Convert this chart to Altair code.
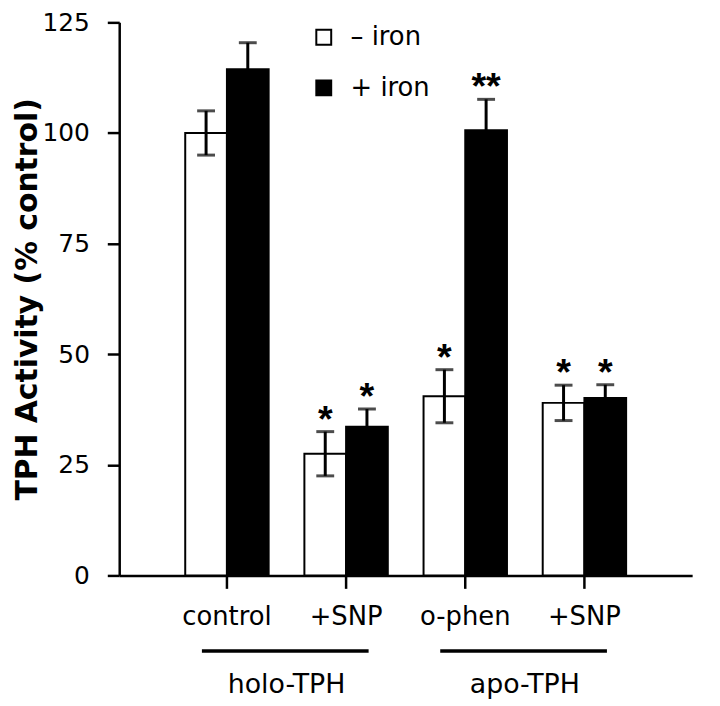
import altair as alt
import pandas as pd

# ---- data ----
groups = ["holo-TPH", "holo-TPH", "apo-TPH", "apo-TPH"]
treatments = ["control", "+SNP", "o-phen", "+SNP"]
iron_labels = ["– iron", "+ iron"]
minus_iron = [100.0, 27.5, 40.5, 39.0]
minus_err = [5.0, 5.0, 6.0, 4.0]
plus_iron = [114.4, 33.6, 100.6, 40.1]
plus_err = [6.0, 4.0, 7.0, 3.0]
minus_sig = ["", "*", "*", "*"]
plus_sig = ["", "*", "**", "*"]
y_ticks = [0, 25, 50, 75, 100, 125]

keys = [f"{g}|{t}" for g, t in zip(groups, treatments)]

rows = []
for i, k in enumerate(keys):
    for lab, vals, errs, sigs in [
        (iron_labels[0], minus_iron, minus_err, minus_sig),
        (iron_labels[1], plus_iron, plus_err, plus_sig),
    ]:
        rows.append(dict(key=k, iron=lab, value=vals[i],
                         lo=vals[i] - errs[i], hi=vals[i] + errs[i], sig=sigs[i]))
df = pd.DataFrame(rows)

grp_rows = []
for g in ["holo-TPH", "apo-TPH"]:
    ks = [k for k, gg in zip(keys, groups) if gg == g]
    grp_rows.append(dict(group=g, start=ks[0], end=ks[-1]))
gdf = pd.DataFrame(grp_rows)

TOP = 12
W, H = 577, 569 - TOP
FONT = "DejaVu Sans"
STAR_FONT = "Liberation Sans"

xscale = alt.Scale(domain=keys, paddingInner=0.3, paddingOuter=0.554)
yscale = alt.Scale(domain=[0, 125], nice=False)
offscale = alt.Scale(domain=iron_labels, paddingInner=0, paddingOuter=0)

xaxis = alt.Axis(title=None, labelExpr="split(datum.value, '|')[1]", labelAngle=0,
                 labelFont=FONT, labelFontSize=26, labelColor="black", labelPadding=15,
                 tickSize=13, tickWidth=2.5, tickColor="black",
                 domainWidth=2.5, domainColor="black")
yaxis = alt.Axis(title="TPH Activity (% control)", values=y_ticks, grid=False,
                 labelFont=FONT, labelFontSize=25, labelColor="black", labelPadding=18,
                 tickSize=12, tickWidth=2.5, tickColor="black",
                 domainWidth=2.5, domainColor="black",
                 titleFont=FONT, titleFontSize=30, titleFontWeight="bold",
                 titleColor="black", titleX=-83, titleBaseline="alphabetic")

base = alt.Chart(df)

bars = base.mark_bar(stroke="black", strokeWidth=2).encode(
    x=alt.X("key:N", scale=xscale, axis=xaxis, sort=keys),
    xOffset=alt.XOffset("iron:N", scale=offscale, sort=iron_labels),
    y=alt.Y("value:Q", scale=yscale, axis=yaxis),
    fill=alt.Fill("iron:N", scale=alt.Scale(domain=iron_labels, range=["white", "black"]),
                  legend=alt.Legend(title=None, orient="none", legendX=193, legendY=2,
                                    symbolType="square", symbolSize=225,
                                    symbolStrokeColor="black", symbolStrokeWidth=2,
                                    labelFont=FONT, labelFontSize=26, labelColor="black",
                                    labelOffset=14, rowPadding=25, padding=0)),
)

enc_common = dict(
    x=alt.X("key:N", scale=xscale, sort=keys),
    xOffset=alt.XOffset("iron:N", scale=offscale, sort=iron_labels),
)

stems = base.mark_rule(color="black", strokeWidth=3).encode(
    y=alt.Y("lo:Q", scale=yscale), y2="hi:Q", **enc_common)
caps_hi = base.mark_tick(color="black", thickness=3, size=18).encode(
    y=alt.Y("hi:Q", scale=yscale), **enc_common)
caps_lo = base.mark_tick(color="black", thickness=3, size=18).encode(
    y=alt.Y("lo:Q", scale=yscale), **enc_common)
stars = base.mark_text(font=STAR_FONT, fontSize=38, fontWeight="bold", color="black",
                       baseline="alphabetic", dy=0).encode(
    y=alt.Y("hi:Q", scale=yscale), text="sig:N", **enc_common)

gbase = alt.Chart(gdf)
glines = gbase.mark_rule(color="black", strokeWidth=3.5).encode(
    x=alt.X("start:N", scale=xscale, bandPosition=0.2),
    x2=alt.X2("end:N", bandPosition=0.77),
    y=alt.value(H + 76),
)
glabels = gbase.mark_text(font=FONT, fontSize=27, color="black", baseline="middle",
                          dx=60).encode(
    x=alt.X("start:N", scale=xscale),
    y=alt.value(H + 110),
    text="group:N",
)

chart = alt.layer(bars, stems, caps_hi, caps_lo, stars, glines, glabels).properties(
    width=W, height=H,
    autosize=alt.AutoSizeParams(type="none"),
    padding={"left": 112, "top": TOP, "right": 20, "bottom": 125},
).configure(font=FONT).configure_view(stroke=None)

chart.save("out.html", embed_options={"renderer": "svg", "actions": False})
